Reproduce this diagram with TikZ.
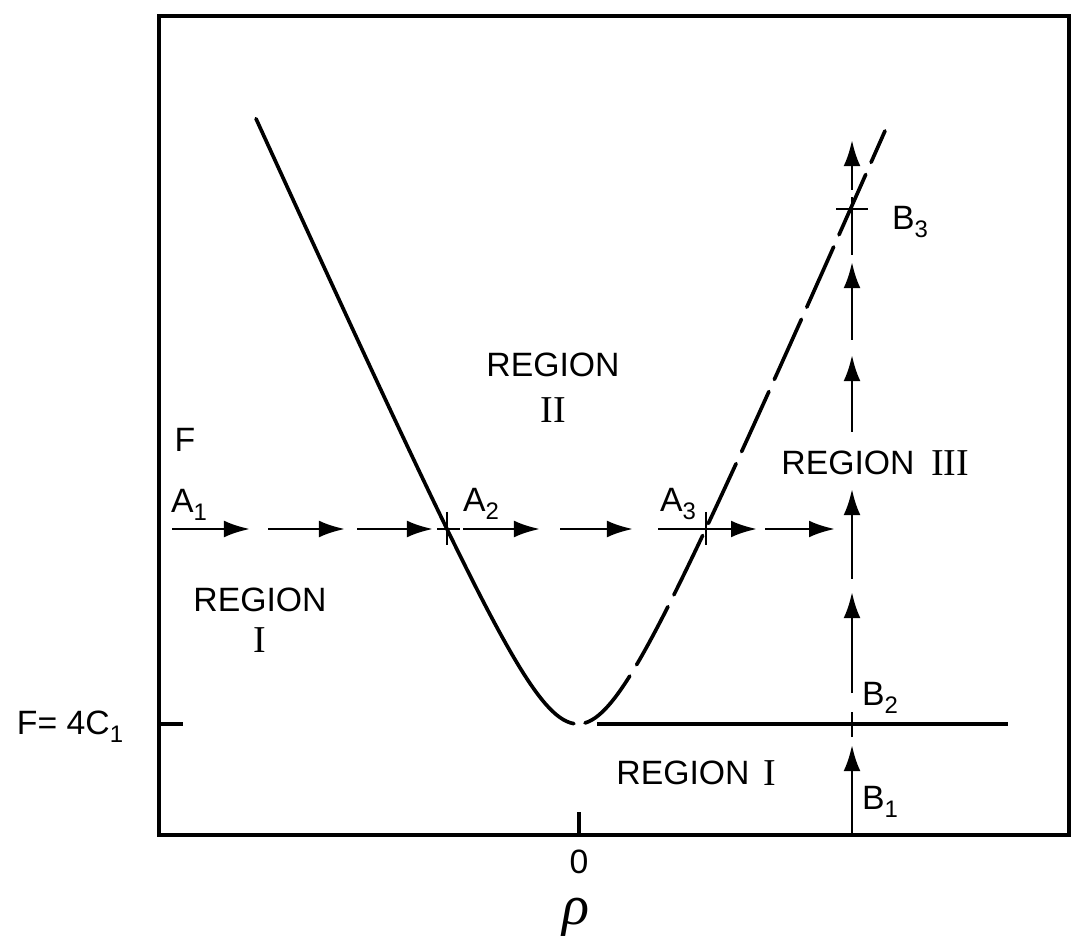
\documentclass[tikz,border=0pt]{standalone}
\usepackage{fontspec}
\setmainfont{Liberation Sans}
\newfontfamily\numfont{Liberation Serif}
\usetikzlibrary{arrows.meta}
\newcommand{\lsub}[1]{\raisebox{-0.45ex}{\fontsize{17}{19}\selectfont #1}}
\tikzset{
  frame/.style={line width=2.2pt},
  branch/.style={line width=2.6pt,line cap=round},
  seg/.style={line width=2pt},
  ar/.style={seg,-{Latex[length=6.5mm,width=4.2mm]}},
  lbl/.style={font=\fontsize{24}{28}\selectfont,inner sep=1pt},
  num/.style={font=\fontsize{27}{31}\selectfont\numfont,inner sep=1pt}
}
\begin{document}
\begin{tikzpicture}[x=0.025cm,y=-0.025cm]
  \useasboundingbox (0,0) rectangle (1073,937);
  % frame, ticks and the level F = 4C_1
  \draw[frame] (159,16) rectangle (1069,835);
  \draw[frame] (159,724) -- (183,724);
  \draw[frame] (579,835) -- (579,812);
  \draw[frame] (597,724) -- (1008,724);

  % boundary curve: solid on the left, dashed on the right
  \draw[branch] plot[domain=-3.22:-0.04,samples=90]
    ({578+100*\x},{724-222*(sqrt(0.2894+\x*\x)-0.538)});
  \draw[branch,dash pattern=on 1.65cm off 0.33cm] plot[domain=0.07:3.07,samples=90]
    ({578+100*\x},{724-230*(sqrt(0.2894+\x*\x)-0.538)});

  % path A: horizontal arrows
  \foreach \xa/\xb in {172/250,268/345,357/433,463/540,560/633,658/757,765/835}
    \draw[ar] (\xa,529) -- (\xb,529);
  \draw[seg] (437,529) -- (460,529);
  \draw[seg] (447,512) -- (447,545);
  \draw[seg] (706,512) -- (706,545);

  % path B: vertical arrows
  \foreach \ya/\yb in {835/745,693/592,579/489,432/355,340/262,190/140}
    \draw[ar] (852,\ya) -- (852,\yb);
  \draw[seg] (852,737) -- (852,712);
  \draw[seg] (852,255) -- (852,197);
  \draw[seg] (836,209) -- (868,209);

  % labels
  \node[lbl] (a1) at (189,505) {A\lsub{1}};
  \node[lbl] (a2) at (481,504) {A\lsub{2}};
  \node[lbl] (a3) at (678,504) {A\lsub{3}};
  \node[lbl] (b3) at (910,222) {B\lsub{3}};
  \node[lbl] (b2) at (880,698) {B\lsub{2}};
  \node[lbl] (b1) at (880,802) {B\lsub{1}};
  \node[lbl] (fax) at (185,440) {F};
  \node[lbl] (flev) at (70,727) {F= 4C\lsub{1}};
  \node[lbl] (zero) at (579,862) {0};
  \node[font=\fontsize{40}{44}\selectfont\numfont\itshape,inner sep=0pt,
        text height=0.45em,text depth=0.2em,anchor=base] (rho) at (576,924) {ρ};

  \node[lbl] (r2) at (553,365) {REGION};
  \node[num] (r2n) at (553,410) {II};
  \node[lbl] (r1) at (260,600) {REGION};
  \node[num] (r1n) at (260,640) {I};
  \node[lbl] (r3) at (848,463) {REGION};
  \node[num] (r3n) at (950,463) {III};
  \node[lbl] (r1b) at (683,773) {REGION};
  \node[num] (r1bn) at (770,773) {I};
\end{tikzpicture}
\end{document}
